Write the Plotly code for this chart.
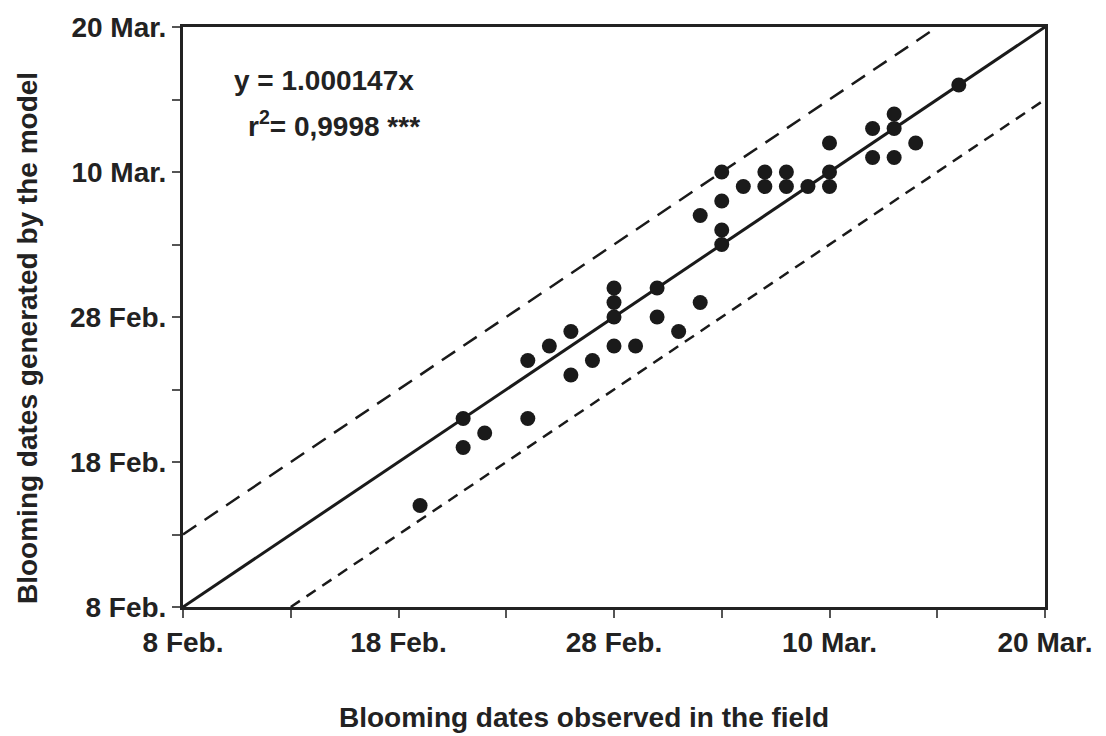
import plotly.graph_objects as go

# Data: blooming dates (observed in field vs generated by model)
observed = [
    "2001-02-19", "2001-02-21", "2001-02-21", "2001-02-22", "2001-02-24",
    "2001-02-24", "2001-02-25", "2001-02-26", "2001-02-26", "2001-02-27",
    "2001-02-28", "2001-02-28", "2001-02-28", "2001-02-28", "2001-03-01",
    "2001-03-02", "2001-03-02", "2001-03-03", "2001-03-04", "2001-03-04",
    "2001-03-05", "2001-03-05", "2001-03-05", "2001-03-05", "2001-03-06",
    "2001-03-07", "2001-03-07", "2001-03-08", "2001-03-08", "2001-03-09",
    "2001-03-10", "2001-03-10", "2001-03-10", "2001-03-12", "2001-03-12",
    "2001-03-13", "2001-03-13", "2001-03-13", "2001-03-14", "2001-03-16",
]
generated = [
    "2001-02-15", "2001-02-21", "2001-02-19", "2001-02-20", "2001-02-21",
    "2001-02-25", "2001-02-26", "2001-02-27", "2001-02-24", "2001-02-25",
    "2001-03-02", "2001-03-01", "2001-02-28", "2001-02-26", "2001-02-26",
    "2001-03-02", "2001-02-28", "2001-02-27", "2001-03-01", "2001-03-07",
    "2001-03-10", "2001-03-08", "2001-03-06", "2001-03-05", "2001-03-09",
    "2001-03-10", "2001-03-09", "2001-03-10", "2001-03-09", "2001-03-09",
    "2001-03-12", "2001-03-10", "2001-03-09", "2001-03-13", "2001-03-11",
    "2001-03-14", "2001-03-13", "2001-03-11", "2001-03-12", "2001-03-16",
]

axis_start = "2001-02-08"
axis_end = "2001-03-20"
tick_dates = ["2001-02-08", "2001-02-13", "2001-02-18", "2001-02-23", "2001-02-28",
              "2001-03-05", "2001-03-10", "2001-03-15", "2001-03-20"]
tick_labels = ["8 Feb.", "", "18 Feb.", "", "28 Feb.", "", "10 Mar.", "", "20 Mar."]

# Reference lines: y = x, y = x + 5 days, y = x - 5 days
fit_x = ["2001-02-08", "2001-03-20"]
fit_y = ["2001-02-08", "2001-03-20"]
upper_x = ["2001-02-08", "2001-03-15"]
upper_y = ["2001-02-13", "2001-03-20"]
lower_x = ["2001-02-13", "2001-03-20"]
lower_y = ["2001-02-08", "2001-03-15"]

FONT = "Liberation Sans, Arial, sans-serif"
TXT = "#222222"

fig = go.Figure()
fig.add_trace(go.Scatter(x=upper_x, y=upper_y, mode="lines",
                         line=dict(color="#1a1a1a", width=2.5, dash="16px,10px"),
                         showlegend=False, hoverinfo="skip"))
fig.add_trace(go.Scatter(x=lower_x, y=lower_y, mode="lines",
                         line=dict(color="#1a1a1a", width=2.5, dash="11px,8px"),
                         showlegend=False, hoverinfo="skip"))
fig.add_trace(go.Scatter(x=fit_x, y=fit_y, mode="lines",
                         line=dict(color="#1a1a1a", width=3),
                         showlegend=False, hoverinfo="skip"))
fig.add_trace(go.Scatter(x=observed, y=generated, mode="markers",
                         marker=dict(color="#1a1a1a", size=15),
                         showlegend=False))

axis_common = dict(
    type="date",
    range=[axis_start, axis_end],
    tickmode="array",
    tickvals=tick_dates,
    ticktext=tick_labels,
    ticks="outside",
    ticklen=8,
    tickwidth=1.5,
    tickcolor="#555555",
    showline=True,
    linewidth=3,
    linecolor=TXT,
    mirror=True,
    showgrid=False,
    zeroline=False,
    automargin=False,
    tickfont=dict(family=FONT, size=28, color=TXT, weight="bold"),
)

fig.update_xaxes(**axis_common)
fig.update_yaxes(**axis_common)

# page body adds an 8px margin, so the figure is sized 8px smaller
fig.update_layout(
    width=1098, height=728,
    margin=dict(l=175, r=61, t=19, b=129),
    paper_bgcolor="white",
    plot_bgcolor="white",
    font=dict(family=FONT, color=TXT),
    annotations=[
        dict(text="Blooming dates observed in the field", xref="paper", yref="paper",
             x=(584 - 183) / 862, y=-(717 - 607) / 580, xanchor="center", yanchor="middle",
             showarrow=False, font=dict(family=FONT, size=28, color=TXT, weight="bold")),
        dict(text="Blooming dates generated by the model", xref="paper", yref="paper",
             x=-(183 - 27) / 862, y=(607 - 338) / 580, xanchor="center", yanchor="middle",
             textangle=-90, showarrow=False,
             font=dict(family=FONT, size=28, color=TXT, weight="bold")),
        dict(text="y = 1.000147x", xref="paper", yref="paper",
             x=(232 - 183) / 862, y=(607 - 80) / 580, xanchor="left", yanchor="middle",
             showarrow=False, font=dict(family=FONT, size=28, color=TXT, weight="bold")),
        dict(text="r<sup>2</sup>= 0,9998 ***", xref="paper", yref="paper",
             x=(246 - 183) / 862, y=(607 - 124) / 580, xanchor="left", yanchor="middle",
             showarrow=False, font=dict(family=FONT, size=28, color=TXT, weight="bold")),
    ],
)

fig.write_html("out.html")
